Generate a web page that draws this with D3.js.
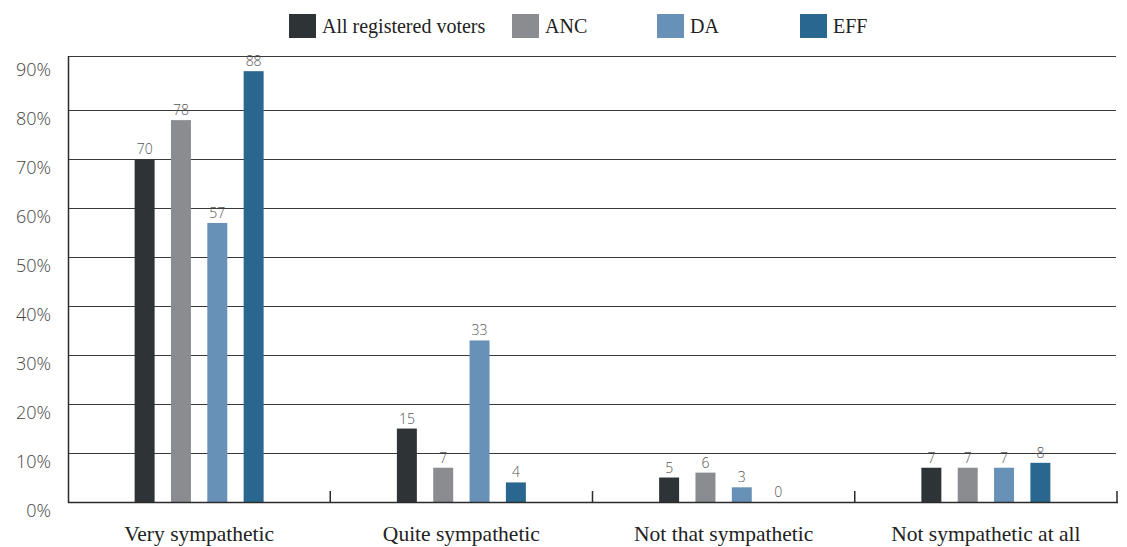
<!DOCTYPE html>
<html>
<head>
<meta charset="utf-8">
<script src="https://cdn.jsdelivr.net/npm/d3@7"></script>
<style>
  body { margin: 0; background: #fff; }
</style>
</head>
<body>
<svg id="chart" width="1127" height="547"></svg>
<script>
// Data
var categories = ["Very sympathetic", "Quite sympathetic", "Not that sympathetic", "Not sympathetic at all"];
var seriesNames = ["All registered voters", "ANC", "DA", "EFF"];
var allVoters = [70, 15, 5, 7];
var anc = [78, 7, 6, 7];
var da = [57, 33, 3, 7];
var eff = [88, 4, 0, 8];
var yTicks = [0, 10, 20, 30, 40, 50, 60, 70, 80, 90];
var colors = ["#2e3336", "#8a8c90", "#6891b8", "#2a6790"];

var series = [allVoters, anc, da, eff];

var svg = d3.select("#chart"),
    plotLeft = 68, plotRight = 1117, plotTop = 56, plotBottom = 502;

var x = d3.scaleBand().domain(categories).range([plotLeft, plotRight]);
var x1 = d3.scaleBand().domain(seriesNames).range([-64.5, 64.5]).paddingInner(0.45).paddingOuter(0);
var y = d3.scaleLinear().domain([0, 91.1]).range([plotBottom, plotTop]);

// gridlines
svg.append("g")
    .selectAll("line")
    .data(yTicks.filter(function (d) { return d > 0 && d < 90; }))
    .enter()
    .append("line")
    .attr("x1", plotLeft).attr("x2", plotRight - 1)
    .attr("y1", function (d) { return Math.round(y(d)) + 0.5; })
    .attr("y2", function (d) { return Math.round(y(d)) + 0.5; })
    .style("stroke", "#3a3a3a")
    .style("stroke-width", 1.2);

// top frame line
svg.append("line")
    .attr("x1", plotLeft).attr("x2", plotRight - 1)
    .attr("y1", plotTop + 0.5).attr("y2", plotTop + 0.5)
    .style("stroke", "#3a3a3a")
    .style("stroke-width", 1.2);

// y tick labels
svg.append("g")
    .selectAll("text")
    .data(yTicks)
    .enter()
    .append("text")
    .attr("x", 51)
    .attr("y", function (d) { return y(d) + 15; })
    .attr("text-anchor", "end")
    .style("font-family", "'Open Sans', Lato, sans-serif")
    .style("font-weight", 300)
    .style("font-size", "18px")
    .style("fill", "#444")
    .text(function (d) { return d + "%"; });

// bars
var groups = svg.append("g")
    .selectAll("g")
    .data(categories)
    .enter()
    .append("g")
    .attr("transform", function (d) { return "translate(" + (x(d) + x.bandwidth() / 2) + ",0)"; });

groups.selectAll("rect")
    .data(function (d, i) { return seriesNames.map(function (s, j) { return { s: s, v: series[j][i], c: colors[j] }; }); })
    .enter()
    .append("rect")
    .attr("x", function (d) { return x1(d.s); })
    .attr("width", x1.bandwidth())
    .attr("y", function (d) { return y(d.v); })
    .attr("height", function (d) { return plotBottom - y(d.v); })
    .attr("fill", function (d) { return d.c; });

groups.selectAll("text")
    .data(function (d, i) { return seriesNames.map(function (s, j) { return { s: s, v: series[j][i] }; }); })
    .enter()
    .append("text")
    .attr("x", function (d) { return x1(d.s) + x1.bandwidth() / 2; })
    .attr("y", function (d) { return y(d.v) - 5; })
    .attr("text-anchor", "middle")
    .style("font-family", "'Open Sans', Lato, sans-serif")
    .style("font-weight", 300)
    .style("font-size", "14px")
    .style("fill", "#555")
    .text(function (d) { return d.v; });

// axes lines
svg.append("line")
    .attr("x1", plotLeft + 0.5).attr("x2", plotLeft + 0.5)
    .attr("y1", plotTop).attr("y2", plotBottom + 1)
    .style("stroke", "#2b2b2b").style("stroke-width", 1.5);
svg.append("line")
    .attr("x1", plotLeft).attr("x2", plotRight + 1)
    .attr("y1", plotBottom + 0.5).attr("y2", plotBottom + 0.5)
    .style("stroke", "#2b2b2b").style("stroke-width", 1.5);

// category separators
svg.append("g")
    .selectAll("line")
    .data(categories)
    .enter()
    .append("line")
    .attr("x1", function (d) { return x(d) + x.bandwidth(); })
    .attr("x2", function (d) { return x(d) + x.bandwidth(); })
    .attr("y1", plotBottom - 11).attr("y2", plotBottom)
    .style("stroke", "#2b2b2b").style("stroke-width", 1.5);

// category labels
svg.append("g")
    .selectAll("text")
    .data(categories)
    .enter()
    .append("text")
    .attr("x", function (d) { return x(d) + x.bandwidth() / 2; })
    .attr("y", 541)
    .attr("text-anchor", "middle")
    .style("font-family", "'Liberation Serif', 'DejaVu Serif', serif")
    .style("font-size", "21.5px")
    .style("fill", "#222")
    .text(function (d) { return d; });

// legend
var legendX = [289, 512, 657, 800];
var legend = svg.append("g")
    .selectAll("g")
    .data(seriesNames)
    .enter()
    .append("g")
    .attr("transform", function (d, i) { return "translate(" + legendX[i] + ",14)"; });
legend.append("rect")
    .attr("width", 27).attr("height", 24)
    .attr("fill", function (d, i) { return colors[i]; });
legend.append("text")
    .attr("x", 33).attr("y", 19)
    .style("font-family", "'Liberation Serif', 'DejaVu Serif', serif")
    .style("font-size", "20px")
    .style("fill", "#222")
    .text(function (d) { return d; });
</script>
</body>
</html>
